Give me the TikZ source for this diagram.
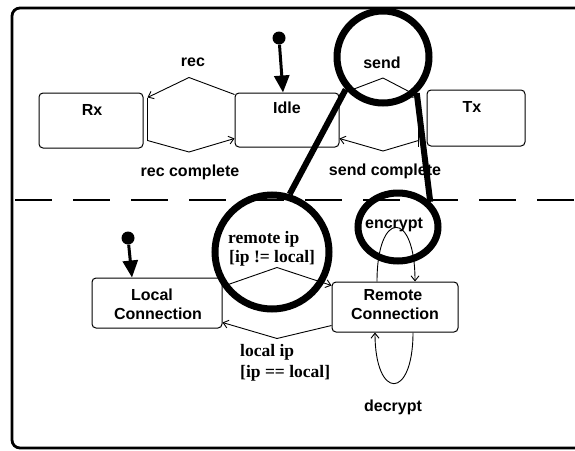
\documentclass[tikz,border=0pt]{standalone}
\usepackage{fontspec}
\setmainfont{Liberation Sans}
\newfontfamily\guardfont{Liberation Serif}
\usetikzlibrary{arrows.meta,shapes.geometric,calc}
\begin{document}
\begin{tikzpicture}[x=1pt,y=-1pt,
  statebox/.style={draw, line width=1pt, rounded corners=4pt, inner sep=0pt},
  lbl/.style={font=\bfseries\fontsize{16}{18}\selectfont, inner sep=0pt, anchor=base},
  guard/.style={font=\guardfont\bfseries\fontsize{17.5}{19}\selectfont, inner sep=0pt, anchor=base west},
  trans/.style={line width=0.9pt, -{Straight Barb[length=5pt,width=8pt]}},
  plainline/.style={line width=0.9pt},
  dotnode/.style={circle, fill=black, inner sep=0pt, minimum size=13pt},
  initarrow/.style={line width=3pt, -{Triangle[length=17pt,width=15pt]}},
  lens/.style={draw, line width=7pt, inner sep=0pt},
  lensline/.style={line width=6pt},
  divider/.style={line width=1.6pt, dash pattern=on 37pt off 21pt},
]
\useasboundingbox (0,0) rectangle (575,450);
% frame
\draw[line width=2.8pt, rounded corners=8pt] (12,8) rectangle (600,448);
% divider
\coordinate (dl) at (15,200);
\coordinate (dr) at (575,200);
\draw[divider] (dl) -- (dr);

% states
\node[statebox, minimum width=104pt, minimum height=55pt] (rx) at (91,120.5) {};
\node[statebox, minimum width=104pt, minimum height=54pt] (idle) at (287,120) {};
\node[statebox, minimum width=98pt, minimum height=56pt] (tx) at (476,118) {};
\node[statebox, minimum width=130pt, minimum height=50pt] (local) at (157,303) {};
\node[statebox, minimum width=126pt, minimum height=50pt] (remote) at (395,307) {};

% state labels
\node[lbl] (rxl) at (92,115) {Rx};
\node[lbl] (idlel) at (287,113) {Idle};
\node[lbl] (txl) at (472,112) {Tx};
\node[lbl] (locall1) at (152,300) {Local};
\node[lbl] (locall2) at (158,319) {Connection};
\node[lbl] (remotel1) at (393,300) {Remote};
\node[lbl] (remotel2) at (395,319) {Connection};

% transition labels
\node[lbl] (recl) at (193,66) {rec};
\node[lbl] (reccl) at (190,176) {rec complete};
\node[lbl] (sendl) at (382,68) {send};
\node[lbl] (sendcl) at (385,175) {send complete};
\node[lbl] (encl) at (394,228) {encrypt};
\node[lbl] (decl) at (393,411) {decrypt};
\node[guard] (rip1) at (228,243) {remote ip};
\node[guard] (rip2) at (229,262) {[ip != local]};
\node[guard] (lip1) at (240,356) {local ip};
\node[guard] (lip2) at (240,377) {[ip == local]};

% top transitions
\draw[trans] ([yshift=-2pt]idle.north west)
  -- ($(rx.north east)!0.5!(idle.north west)+(0,-15)$)
  -- ([xshift=4pt,yshift=-5pt]rx.north east);
\draw[plainline] ([xshift=4pt,yshift=-5pt]rx.north east) -- ([xshift=4pt,yshift=8pt]rx.south east);
\draw[trans] ([xshift=4pt,yshift=8pt]rx.south east)
  -- ($(rx.south east)!0.5!(idle.south west)+(0,4)$)
  -- ([yshift=9pt]idle.south west);
\draw[trans] ([yshift=-2pt]idle.north east)
  -- ($(idle.north east)!0.5!(tx.north west)+(0,-13)$)
  -- ([xshift=-8pt,yshift=-7pt]tx.north west);
\draw[plainline] ([xshift=-8pt,yshift=-7pt]tx.north west) -- ([xshift=-8pt]tx.south west);
\draw[trans] ([xshift=-8pt,yshift=6pt]tx.south west)
  -- ($(idle.south east)!0.5!(tx.south west)+(0,4)$)
  -- ([yshift=9pt]idle.south east);

% bottom transitions
\draw[trans] ([yshift=-9pt]local.north east)
  -- ($(local.north east)!0.5!(remote.north west)+(0,-12)$)
  -- ([yshift=-4pt]remote.north west);
\draw[trans] ([yshift=7pt]remote.south west)
  -- ($(local.south east)!0.5!(remote.south west)+(0,8)$)
  -- ([yshift=6pt]local.south east);
\draw[trans] ([xshift=-18pt]remote.north) .. controls +(0,-72) and +(0,-72) .. ([xshift=20pt]remote.north);
\draw[trans] ([xshift=18pt]remote.south) .. controls +(0,68) and +(0,68) .. ([xshift=-20pt]remote.south);

% initial states
\node[dotnode] (init1) at (279,38) {};
\draw[initarrow] (init1) -- ([xshift=-4pt]idle.north);
\node[dotnode] (init2) at (128,238) {};
\draw[initarrow] (init2) -- ([xshift=-25pt]local.north);

% magnifier lenses
\node[lens, circle, minimum size=92pt] (lens1) at (383,57) {};
\node[lens, circle, minimum size=114pt] (lens2) at (272,252) {};
\node[lens, ellipse, minimum width=80pt, minimum height=68pt] (lens3) at (398,227) {};
\draw[lensline] (lens1.221) -- (lens2.73);
\draw[lensline] (lens1.-47) -- (lens3.38);
\end{tikzpicture}
\end{document}
